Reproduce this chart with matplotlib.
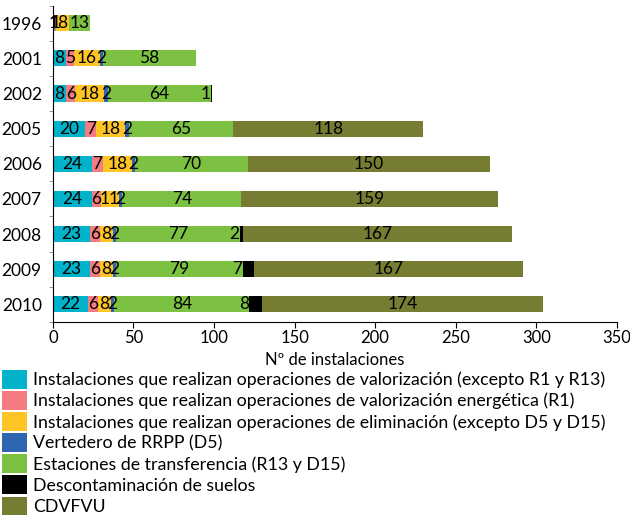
import matplotlib
matplotlib.use("Agg")
import matplotlib.pyplot as plt
from matplotlib.patches import Patch
import numpy as np

plt.rcParams["font.family"] = ["Lato", "DejaVu Sans"]

years = ["1996", "2001", "2002", "2005", "2006", "2007", "2008", "2009", "2010"]

valorizacion = [1, 8, 8, 20, 24, 24, 23, 23, 22]
energetica = [1, 5, 6, 7, 7, 6, 6, 6, 6]
eliminacion = [8, 16, 18, 18, 18, 11, 8, 8, 8]
vertedero = [0, 2, 2, 2, 2, 2, 2, 2, 2]
transferencia = [13, 58, 64, 65, 70, 74, 77, 79, 84]
suelos = [0, 0, 1, 0, 0, 0, 2, 7, 8]
cdvfvu = [0, 0, 0, 118, 150, 159, 167, 167, 174]

series_labels = [
    "Instalaciones que realizan operaciones de valorización (excepto R1 y R13)",
    "Instalaciones que realizan operaciones de valorización energética (R1)",
    "Instalaciones que realizan operaciones de eliminación (excepto D5 y D15)",
    "Vertedero de RRPP (D5)",
    "Estaciones de transferencia (R13 y D15)",
    "Descontaminación de suelos",
    "CDVFVU",
]
colors = ["#00b3cb", "#f47c80", "#ffc526", "#2f66b2", "#7cc142", "#000000", "#767c32"]

series = [valorizacion, energetica, eliminacion, vertedero, transferencia, suelos, cdvfvu]

fig = plt.figure(figsize=(6.3, 5.2), dpi=100)
ax = fig.add_axes([0.084, 0.381, 0.895, 0.608])

y = np.arange(len(years))
left = np.zeros(len(years))
for k, (vals, col) in enumerate(zip(series, colors)):
    vals = np.array(vals, dtype=float)
    ax.barh(y, vals, left=left, height=0.46, color=col)
    for i, v in enumerate(vals):
        if v <= 0:
            continue
        if k == 5:
            # soil decontamination: label sits just before the black segment
            ax.text(left[i] - 0.3, y[i], f"{int(v)}", ha="right", va="center", fontsize=12.5)
        else:
            ax.text(left[i] + v / 2, y[i], f"{int(v)}", ha="center", va="center", fontsize=12.5)
    left += vals

ax.set_ylim(len(years) - 0.5, -0.5)
ax.set_yticks(y)
ax.set_yticklabels(years, fontsize=12.5)
ax.set_yticks(np.arange(-0.5, len(years), 1), minor=True)
ax.tick_params(axis="y", which="major", length=0, pad=8)
ax.tick_params(axis="y", which="minor", length=3, color="#8a8a50")

ax.set_xlim(0, 350)
ax.set_xticks(np.arange(0, 351, 50))
ax.tick_params(axis="x", labelsize=12, length=4, pad=2)
ax.set_xlabel("Nº de instalaciones", fontsize=12, labelpad=4)

for s in ["top", "right"]:
    ax.spines[s].set_visible(False)

handles = [Patch(facecolor=c, edgecolor="none") for c in colors]
fig.legend(handles, series_labels, loc="upper left", bbox_to_anchor=(0.0, 0.292),
           frameon=False, fontsize=12.8, handlelength=1.4, handleheight=1.25,
           labelspacing=0.13, handletextpad=0.35, borderaxespad=0, borderpad=0.1)

fig.savefig("out.png", dpi=100)
